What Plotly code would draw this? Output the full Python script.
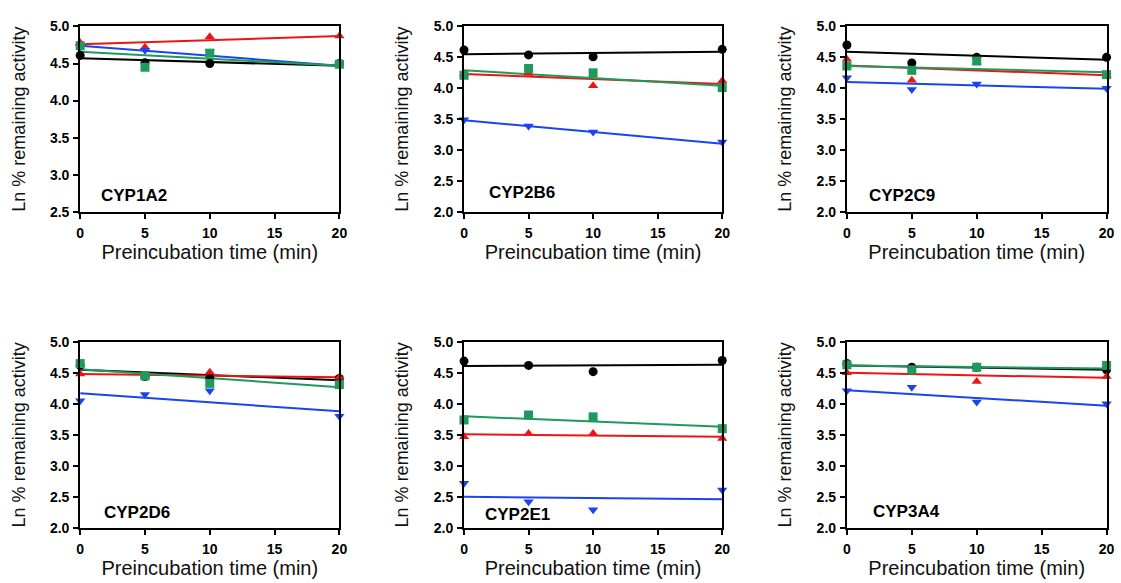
import plotly.graph_objects as go

# ---------------- data ----------------
times = [0, 5, 10, 20]
fit_times = [0, 20]
enzymes = ["CYP1A2", "CYP2B6", "CYP2C9", "CYP2D6", "CYP2E1", "CYP3A4"]
y_min = [2.5, 2.0, 2.0, 2.0, 2.0, 2.0]
y_max = [5.0, 5.0, 5.0, 5.0, 5.0, 5.0]
x_ticks = [0, 5, 10, 15, 20]

black_vals = [
    [4.61, 4.51, 4.50, 4.50],
    [4.62, 4.54, 4.51, 4.63],
    [4.70, 4.41, 4.50, 4.50],
    [4.62, 4.44, 4.42, 4.41],
    [4.69, 4.62, 4.52, 4.70],
    [4.65, 4.59, 4.59, 4.55],
]
red_vals = [
    [4.78, 4.72, 4.86, 4.87],
    [4.23, 4.24, 4.04, 4.12],
    [4.47, 4.13, 4.42, 4.21],
    [4.48, 4.45, 4.51, 4.43],
    [3.47, 3.52, 3.52, 3.44],
    [4.50, 4.50, 4.36, 4.44],
]
green_vals = [
    [4.74, 4.45, 4.64, 4.49],
    [4.21, 4.32, 4.25, 4.01],
    [4.36, 4.29, 4.44, 4.22],
    [4.65, 4.45, 4.33, 4.31],
    [3.74, 3.82, 3.79, 3.60],
    [4.63, 4.55, 4.59, 4.62],
]
blue_vals = [
    [4.72, 4.68, 4.66, 4.49],
    [3.49, 3.39, 3.29, 3.13],
    [4.17, 3.98, 4.07, 4.00],
    [4.05, 4.15, 4.21, 3.80],
    [2.72, 2.42, 2.29, 2.61],
    [4.21, 4.27, 4.03, 4.00],
]

# fitted regression lines: value at t=0 and t=20
black_fit = [[4.57, 4.47], [4.55, 4.59], [4.59, 4.46], [4.55, 4.38], [4.61, 4.63], [4.62, 4.55]]
red_fit = [[4.76, 4.87], [4.23, 4.07], [4.37, 4.21], [4.48, 4.43], [3.51, 3.47], [4.50, 4.42]]
green_fit = [[4.66, 4.47], [4.29, 4.04], [4.36, 4.26], [4.56, 4.27], [3.80, 3.63], [4.62, 4.57]]
blue_fit = [[4.74, 4.47], [3.48, 3.10], [4.10, 3.99], [4.17, 3.88], [2.50, 2.46], [4.22, 3.97]]

# label positions (data coords of each panel)
label_x = [1.45, 1.77, 1.52, 1.71, 1.45, 1.83]
label_y = [2.72, 2.31, 2.26, 2.24, 2.22, 2.26]

# ---------------- styling ----------------
W, H = 1121, 583
col_px = [(77, 339), (465, 726), (852, 1114.5)]
row_px = [(19, 209.5), (343.3, 534.5)]

series = [
    ("black", black_vals, black_fit, "#000000", "circle"),
    ("red", red_vals, red_fit, "#ee1414", "triangle-up"),
    ("blue", blue_vals, blue_fit, "#1a44f2", "triangle-down"),
    ("green", green_vals, green_fit, "#1e9a5c", "square"),
]

fig = go.Figure()
layout = dict(
    width=W, height=H,
    margin=dict(l=0, r=0, t=0, b=0),
    paper_bgcolor="white", plot_bgcolor="white",
    showlegend=False,
    font=dict(family="Liberation Sans, Arial, sans-serif", color="black"),
    annotations=[],
)

for i, enz in enumerate(enzymes):
    r, c = divmod(i, 3)
    n = i + 1
    xa = "x" if n == 1 else f"x{n}"
    ya = "y" if n == 1 else f"y{n}"
    x0, x1 = col_px[c]
    t0, t1 = row_px[r]
    for name, vals, fits, color, sym in series:
        fig.add_trace(go.Scatter(
            x=fit_times, y=fits[i], mode="lines",
            line=dict(color=color, width=2), xaxis=xa, yaxis=ya,
            name=name, cliponaxis=False, hoverinfo="skip"))
    for name, vals, fits, color, sym in series:
        fig.add_trace(go.Scatter(
            x=times, y=vals[i], mode="markers",
            marker=dict(color=color, symbol=sym, size=9, line=dict(width=0)),
            xaxis=xa, yaxis=ya, name=name, cliponaxis=False))
    axis_common = dict(
        showline=True, linecolor="black", linewidth=2, mirror=True,
        showgrid=False, zeroline=False, ticks="outside", ticklen=5,
        tickwidth=2, tickcolor="black",
        tickfont=dict(family="Liberation Sans, Arial, sans-serif", size=14, color="black", weight="bold"),
    )
    layout["xaxis" if n == 1 else f"xaxis{n}"] = dict(
        axis_common,
        domain=[x0 / W, x1 / W],
        range=[0, 20], tickvals=x_ticks, anchor=ya,
        ticklabelstandoff=2,
        title=dict(text="Preincubation time (min)", font=dict(size=20, color="#111111"), standoff=0),
    )
    layout["yaxis" if n == 1 else f"yaxis{n}"] = dict(
        axis_common,
        domain=[1 - t1 / H, 1 - t0 / H],
        range=[y_min[i], y_max[i]], dtick=0.5, tick0=0, tickformat=".1f", anchor=xa,
        ticklabelstandoff=1,
        title=dict(text="Ln % remaining activity", font=dict(size=18, color="#111111"), standoff=20),
    )
    layout["annotations"].append(dict(
        x=label_x[i], y=label_y[i], xref=xa, yref=ya, text=f"<b>{enz}</b>",
        showarrow=False, xanchor="left", yanchor="middle",
        font=dict(size=17, color="black")))

fig.update_layout(**layout)
fig.write_html("out.html")
